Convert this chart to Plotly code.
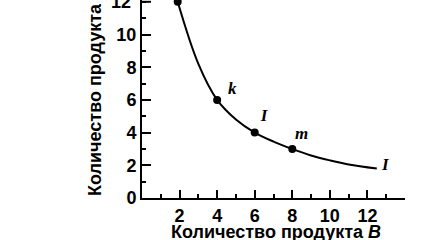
import plotly.graph_objects as go

curve_x = [1.9, 3.0, 4.0, 5.0, 6.0, 7.0, 8.0, 9.0, 10.0, 11.0, 12.5]
curve_y = [12.0, 8.2, 6.0, 4.8, 4.0, 3.45, 3.0, 2.6, 2.3, 2.05, 1.8]
point_x = [1.9, 4, 6, 8]
point_y = [12, 6, 4, 3]
label_text = ["j", "k", "I", "m", "I"]
label_x = [2.65, 4.8, 6.5, 8.5, 12.95]
label_y = [12.45, 6.6, 4.95, 3.85, 2.0]
x_ticks = [2, 4, 6, 8, 10, 12]
y_ticks = [0, 2, 4, 6, 8, 10, 12]

fig = go.Figure()
fig.add_trace(go.Scatter(x=curve_x, y=curve_y, mode="lines",
                         line=dict(color="black", width=2, shape="spline", smoothing=1.0),
                         hoverinfo="skip"))
fig.add_trace(go.Scatter(x=point_x, y=point_y, mode="markers",
                         marker=dict(color="black", size=8), hoverinfo="skip", cliponaxis=False))
fig.add_trace(go.Scatter(x=label_x, y=label_y, mode="text", text=label_text,
                         textfont=dict(family="Liberation Serif", size=17, color="black"),
                         texttemplate="<b><i>%{text}</i></b>", hoverinfo="skip", cliponaxis=False))

axis_font = dict(family="Liberation Sans", size=18, color="black")
title_font = dict(family="Liberation Sans", size=18, color="black")
fig.update_layout(
    width=427, height=240,
    margin=dict(l=142, r=22, t=0, b=42),
    paper_bgcolor="white", plot_bgcolor="white",
    showlegend=False,
    xaxis=dict(range=[0, 14], tickvals=x_ticks, ticktext=[f"<b>{v}</b>" for v in x_ticks],
               tickfont=axis_font, showgrid=False, zeroline=False,
               showline=True, linecolor="black", linewidth=2,
               ticks="inside", ticklen=8, tickwidth=2, tickcolor="black",
               minor=dict(tickvals=[1, 3, 5, 7, 9, 11, 13], ticks="inside", ticklen=4,
                          tickwidth=1.5, tickcolor="black")),
    yaxis=dict(range=[0, 12.11], tickvals=y_ticks[:-1], ticktext=[f"<b>{v}</b>" for v in y_ticks[:-1]],
               tickfont=axis_font, showgrid=False, zeroline=False,
               showline=True, linecolor="black", linewidth=2,
               ticks="inside", ticklen=9, tickwidth=2, tickcolor="black",
               minor=dict(tickvals=[1, 3, 5, 7, 9, 11, 12], ticks="inside", ticklen=4,
                          tickwidth=1.5, tickcolor="black")),
)
fig.add_annotation(x=0, xref="paper", xanchor="right", xshift=-9, y=y_ticks[-1], yref="y",
                   yanchor="middle", text=f"<b>{y_ticks[-1]}</b>", showarrow=False, font=axis_font)
fig.add_shape(type="line", xref="paper", x0=0, x1=9 / 263, yref="y", y0=12, y1=12,
              line=dict(color="black", width=2))
fig.add_annotation(x=-0.179, xref="paper", xanchor="center", y=0, yref="paper", yanchor="bottom",
                   text="<b>Количество продукта <i>А</i></b>", textangle=-90,
                   showarrow=False, font=title_font)
fig.add_annotation(x=0.51, xref="paper", xanchor="center", y=-0.172, yref="paper", yanchor="middle",
                   text="<b>Количество продукта <i>В</i></b>",
                   showarrow=False, font=title_font)
fig.write_html("out.html")
